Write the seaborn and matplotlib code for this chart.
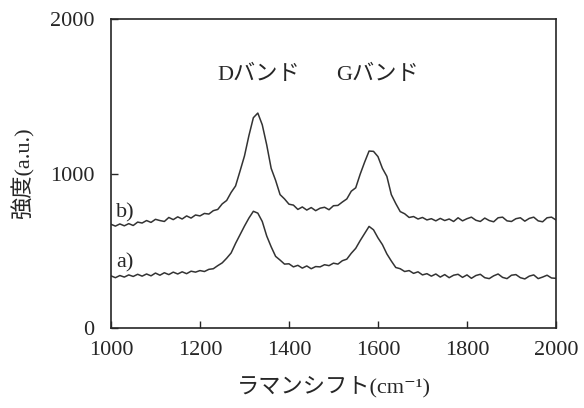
import numpy as np
import pandas as pd
import matplotlib
matplotlib.use("Agg")
import matplotlib.pyplot as plt
import seaborn as sns

# Raman shift grid (cm^-1)
wavenumber = list(range(1000, 2001, 10))

# Spectrum a) — intensity (a.u.)
intensity_a = [
    338, 326, 340, 330, 344, 334, 348, 336, 350, 338,
    356, 342, 358, 346, 362, 350, 364, 352, 368, 362,
    372, 366, 380, 384, 404, 422, 452, 486, 548, 604,
    660, 712, 756, 744, 690, 596, 526, 464, 440, 414,
    416, 396, 406, 388, 402, 384, 398, 396, 410, 404,
    420, 414, 436, 446, 484, 516, 566, 612, 658, 636,
    584, 540, 480, 434, 392, 384, 366, 372, 354, 364,
    344, 352, 336, 350, 330, 346, 326, 342, 348, 328,
    344, 322, 340, 348, 326, 320, 338, 350, 328, 320,
    342, 346, 326, 318, 336, 344, 320, 330, 342, 324,
    322,
]

# Spectrum b) — intensity (a.u.)
intensity_b = [
    672, 660, 674, 662, 676, 664, 686, 680, 696, 684,
    704, 696, 690, 716, 702, 720, 706, 726, 712, 732,
    726, 742, 738, 760, 768, 804, 826, 878, 920, 1016,
    1114, 1246, 1362, 1392, 1316, 1186, 1034, 956, 864, 836,
    802, 796, 768, 784, 764, 780, 760, 776, 782, 766,
    792, 794, 816, 836, 886, 908, 996, 1074, 1146, 1144,
    1110, 1034, 982, 864, 806, 754, 740, 716, 722, 706,
    716, 700, 708, 694, 710, 696, 706, 690, 714, 694,
    708, 718, 698, 690, 712, 696, 688, 714, 718, 694,
    690, 708, 714, 692, 710, 718, 694, 688, 714, 718,
    700,
]

series_names = ["a)", "b)"]
x_ticks = [1000, 1200, 1400, 1600, 1800, 2000]
y_ticks = [0, 1000, 2000]

df = pd.DataFrame({
    "shift": wavenumber * 2,
    "intensity": intensity_a + intensity_b,
    "sample": [series_names[0]] * len(wavenumber) + [series_names[1]] * len(wavenumber),
})

sns.set_style("ticks")
fonts = ["Liberation Serif", "Noto Sans CJK JP", "DejaVu Serif"]
plt.rcParams["font.family"] = fonts

ink = "#262626"

fig = plt.figure(figsize=(5.84, 4.08), dpi=100)
ax = fig.add_axes([0.190, 0.196, 0.762, 0.757])

sns.lineplot(data=df, x="shift", y="intensity", hue="sample",
             palette=["#333333", "#333333"], linewidth=1.1,
             legend=False, ax=ax)

ax.set_xlim(1000, 2000)
ax.set_ylim(0, 2000)
ax.set_xticks(x_ticks)
ax.set_yticks(y_ticks)
ax.tick_params(direction="in", length=5, width=1, labelsize=16,
               colors=ink, pad=9)
ax.tick_params(axis="y", pad=12)
for side in ["left", "right", "top", "bottom"]:
    ax.spines[side].set_visible(True)
    ax.spines[side].set_linewidth(1.2)
    ax.spines[side].set_color(ink)

ax.set_xlabel("ラマンシフト(cm⁻¹)", fontsize=16, color=ink, labelpad=12)
ax.set_ylabel("強度(a.u.)", fontsize=16, color=ink, labelpad=11)

# Series labels and band annotations
ax.text(1012, 744, series_names[1], fontsize=16, ha="left", va="center", color=ink)
ax.text(1012, 420, series_names[0], fontsize=16, ha="left", va="center", color=ink)
ax.text(1333, 1637, "Dバンド", fontsize=16, ha="center", va="center", color=ink)
ax.text(1599, 1637, "Gバンド", fontsize=16, ha="center", va="center", color=ink)

fig.savefig("out.png", dpi=100, facecolor="white")
